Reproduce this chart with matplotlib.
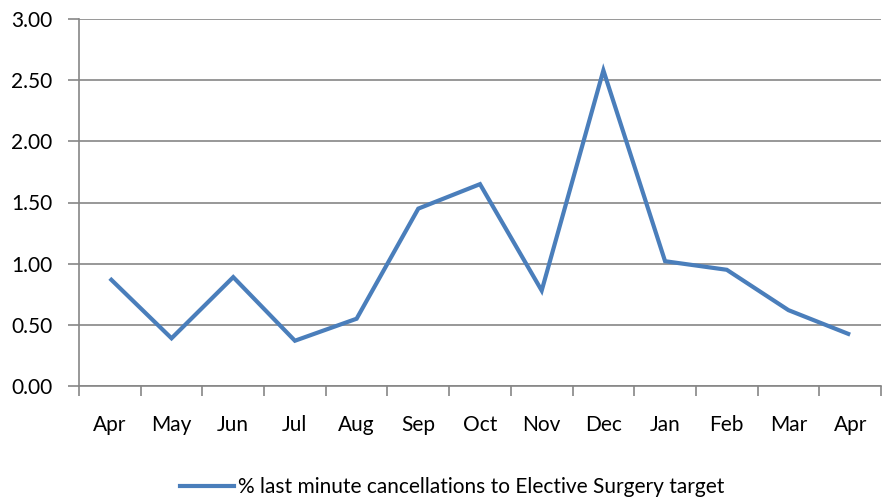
import matplotlib
matplotlib.use("Agg")
import matplotlib.pyplot as plt
from matplotlib.lines import Line2D

months = ["Apr", "May", "Jun", "Jul", "Aug", "Sep", "Oct", "Nov", "Dec", "Jan", "Feb", "Mar", "Apr"]
values = [0.88, 0.39, 0.89, 0.37, 0.55, 1.45, 1.65, 0.78, 2.58, 1.02, 0.95, 0.62, 0.42]
yticks = [0.0, 0.5, 1.0, 1.5, 2.0, 2.5, 3.0]
series_label = "% last minute cancellations to Elective Surgery target"

plt.rcParams['font.family'] = ['Lato', 'DejaVu Sans']

fig = plt.figure(figsize=(8.82, 4.99), dpi=100)
ax = fig.add_axes([79/882, 113/499, 802/882, 367/499])

x = list(range(len(months)))
ax.plot(x, values, color="#4A7EBB", linewidth=3.0, solid_joinstyle="miter", solid_capstyle="butt")

ax.set_xlim(-0.5, len(months) - 0.5)
ax.set_ylim(0, 3.0)
ax.set_yticks(yticks)
ax.set_yticklabels([f"{v:.2f}" for v in yticks], fontsize=15)
ax.set_xticks(x)
ax.set_xticklabels(months, fontsize=15)
ax.tick_params(axis="x", length=0, pad=21)
ax.set_xticks([i - 0.5 for i in range(len(months) + 1)], minor=True)
ax.tick_params(axis="x", which="minor", length=7, color="#868686", width=1.2, direction="out")
ax.tick_params(axis="y", length=8, color="#868686", width=1.2, pad=11)

ax.grid(axis="y", color="#868686", linewidth=1.2)
ax.set_axisbelow(True)
for s in ["top", "right"]:
    ax.spines[s].set_visible(False)
for s in ["left", "bottom"]:
    ax.spines[s].set_color("#868686")
    ax.spines[s].set_linewidth(1.2)

handle = Line2D([0], [0], color="#4A7EBB", linewidth=3.0)
fig.legend([handle], [series_label], loc="center", bbox_to_anchor=(452/882, 1 - 487/499),
           frameon=False, fontsize=15, handlelength=2.6, handletextpad=0.2)

fig.savefig("out.png", dpi=100)
